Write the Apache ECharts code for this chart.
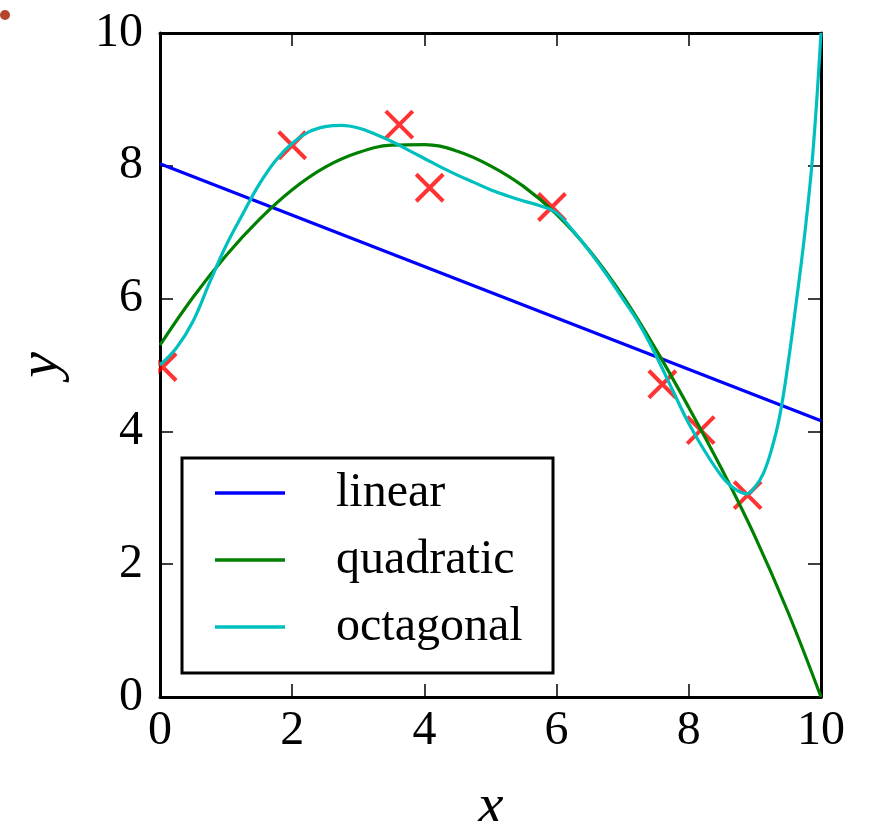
<!DOCTYPE html>
<html>
<head>
<meta charset="utf-8">
<script src="https://cdn.jsdelivr.net/npm/echarts@6/dist/echarts.min.js"></script>
<style>html,body{margin:0;padding:0;background:#fff;}#chart{width:875px;height:821px;}</style>
</head>
<body>
<div id="chart"></div>
<script>
// Data
const xTicks = [0, 2, 4, 6, 8, 10];
const yTicks = [0, 2, 4, 6, 8, 10];

const scatterX = [0.04, 2.00, 3.62, 4.08, 5.93, 7.60, 8.18, 8.89];
const scatterY = [4.97, 8.31, 8.62, 7.67, 7.38, 4.71, 4.02, 3.04];

const linearX = [0, 10];
const linearY = [8.03, 4.16];

const quadX = [0, 0.5, 1.0, 1.5, 2.0, 2.5, 3.0, 3.5, 4.0, 4.5, 5.0, 5.5, 6.0, 6.5, 7.0, 7.5, 8.0, 8.5, 9.0, 9.5, 10];
const quadY = [5.30, 6.02, 6.65, 7.19, 7.64, 7.98, 8.20, 8.31, 8.32, 8.22, 8.00, 7.69, 7.27, 6.72, 6.04, 5.24, 4.36, 3.43, 2.42, 1.28, 0];

const octX = [0, 0.25, 0.5, 0.75, 1.0, 1.25, 1.5, 1.75, 2.0, 2.25, 2.5, 2.75, 3.0, 3.25, 3.5, 3.75, 4.0, 4.25, 4.5, 4.75, 5.0, 5.25, 5.5, 5.75, 6.0, 6.25, 6.5, 6.75, 7.0, 7.25, 7.5, 7.75, 8.0, 8.25, 8.5, 8.625, 8.75, 8.875, 9.0, 9.125, 9.25, 9.375, 9.5, 9.625, 9.75, 9.875, 10];
const octY = [5.00, 5.26, 5.66, 6.24, 6.80, 7.27, 7.72, 8.08, 8.34, 8.51, 8.59, 8.61, 8.57, 8.48, 8.37, 8.24, 8.11, 7.98, 7.86, 7.75, 7.64, 7.55, 7.47, 7.40, 7.29, 7.02, 6.71, 6.37, 6.00, 5.62, 5.15, 4.63, 4.12, 3.69, 3.32, 3.19, 3.10, 3.06, 3.16, 3.36, 3.72, 4.23, 5.01, 5.94, 6.94, 8.17, 10];

const seriesNames = ['linear', 'quadratic', 'octagonal'];

const zip = (xs, ys) => xs.map((x, i) => [x, ys[i]]);

const FONT = 'Liberation Serif';
const chart = echarts.init(document.getElementById('chart'), null, {renderer: 'canvas'});

const baseAxis = {
  type: 'value', min: 0, max: 10, interval: 2,
  splitLine: {show: false},
  axisLine: {show: true, onZero: false, lineStyle: {color: '#000', width: 3}},
  axisTick: {show: true, inside: true, length: 13, lineStyle: {color: '#000', width: 1.5}}
};

chart.setOption({
  animation: false,
  backgroundColor: '#fff',
  grid: {left: 160, top: 33, right: 54, bottom: 124, containLabel: false, outerBoundsMode: 'none'},
  xAxis: [
    Object.assign({}, baseAxis, {
      position: 'bottom',
      axisLabel: {show: true, color: '#000', fontFamily: FONT, fontSize: 48, margin: 10,
        formatter: v => xTicks.includes(v) ? String(v) : ''},
      name: 'x', nameLocation: 'middle', nameGap: 82,
      nameTextStyle: {color: '#000', fontFamily: FONT, fontStyle: 'italic', fontSize: 58}
    }),
    Object.assign({}, baseAxis, {position: 'top', axisLabel: {show: false}})
  ],
  yAxis: [
    Object.assign({}, baseAxis, {
      position: 'left',
      axisLabel: {show: true, color: '#000', fontFamily: FONT, fontSize: 48, margin: 17,
        formatter: v => yTicks.includes(v) ? String(v) : ''},
      name: 'y', nameLocation: 'middle', nameGap: 89, nameRotate: 90,
      nameTextStyle: {color: '#000', fontFamily: FONT, fontStyle: 'italic', fontSize: 58}
    }),
    Object.assign({}, baseAxis, {position: 'right', axisLabel: {show: false}})
  ],
  legend: {
    orient: 'vertical', left: 215, top: 469, padding: 0,
    itemWidth: 70, itemHeight: 3.5, itemGap: 19,
    data: seriesNames.map(n => ({name: n, icon: 'rect'})),
    textStyle: {color: '#000', fontFamily: FONT, fontSize: 48, lineHeight: 48, padding: [0, 0, 0, 46]}
  },
  graphic: [
    {type: 'rect', z: 3, shape: {x: 182, y: 458, width: 371, height: 215},
      style: {fill: '#fff', stroke: '#000', lineWidth: 3}},
    {type: 'rect', z: 10, silent: true, shape: {x: 140, y: 345, width: 18.3, height: 45},
      style: {fill: '#fff'}},
    {type: 'circle', z: 3, shape: {cx: 5, cy: 15, r: 5}, style: {fill: '#b5452d'}}
  ],
  series: [
    {type: 'scatter', name: 'data', z: 1, data: zip(scatterX, scatterY),
      symbol: 'path://M0,0 L10,10 M10,0 L0,10', symbolSize: 27,
      itemStyle: {color: 'rgba(0,0,0,0)', borderColor: '#ff0000', borderWidth: 4}},
    {type: 'line', name: 'linear', z: 2, data: zip(linearX, linearY), showSymbol: false,
      lineStyle: {color: '#0000ff', width: 3.2}, itemStyle: {color: '#0000ff'}},
    {type: 'line', name: 'quadratic', z: 2, data: zip(quadX, quadY), showSymbol: false, smooth: 0.4,
      lineStyle: {color: '#008000', width: 3.2}, itemStyle: {color: '#008000'}},
    {type: 'line', name: 'octagonal', z: 2, data: zip(octX, octY), showSymbol: false, smooth: 0.4,
      lineStyle: {color: '#00bfbf', width: 3.2}, itemStyle: {color: '#00bfbf'}}
  ]
});
</script>
</body>
</html>
